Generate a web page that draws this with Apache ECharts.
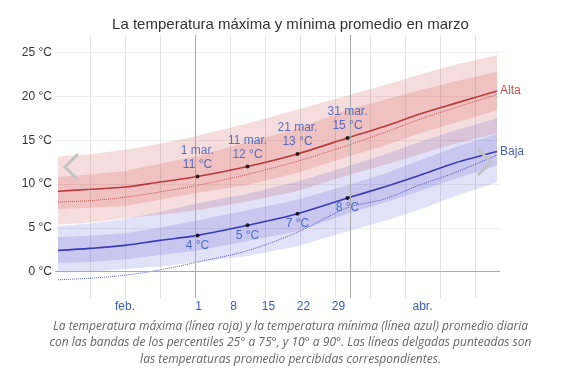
<!DOCTYPE html>
<html>
<head>
<meta charset="utf-8">
<script src="https://cdn.jsdelivr.net/npm/echarts@6/dist/echarts.min.js"></script>
<style>
  html, body { margin: 0; padding: 0; background: #fff; }
  #chart { width: 581px; height: 375px; }
</style>
</head>
<body>
<div id="chart"></div>
<script>
// x = Tage ab 1. Feb. (0) bis 1. Mai (89)
const days        = [0.6, 7, 14, 21, 28.5, 38.5, 48.5, 58.5, 66, 73, 80, 88.4];

const highAvg     = [9.17, 9.4, 9.66, 10.23, 10.85, 12.0, 13.43, 15.25, 16.6, 18.0, 19.2, 20.6];
const highFeels   = [7.95, 8.1, 8.5, 9.1, 9.85, 11.1, 12.6, 14.4, 15.9, 17.4, 18.7, 20.2];
const highP90     = [13.15, 13.4, 13.9, 14.6, 15.5, 16.9, 18.5, 20.1, 21.3, 22.5, 23.6, 24.7];
const highP75     = [10.8, 11.1, 11.5, 12.3, 13.2, 14.8, 16.3, 18.5, 19.6, 20.7, 21.7, 22.8];
const highP25     = [7.15, 7.3, 7.5, 8.2, 9.0, 9.9, 11.3, 13.1, 14.4, 15.8, 17.0, 18.4];
const highP10     = [5.36, 5.6, 6.1, 6.5, 7.0, 8.0, 9.2, 11.0, 12.2, 13.4, 14.6, 15.8];

const lowAvg      = [2.43, 2.66, 3.0, 3.57, 4.14, 5.29, 6.62, 8.4, 9.7, 11.0, 12.4, 13.7];
const lowFeels    = [-0.92, -0.75, -0.4, 0.2, 1.1, 2.4, 4.5, 7.3, 8.3, 9.9, 11.3, 13.3];
const lowP90      = [5.2, 5.5, 6.0, 6.8, 7.8, 8.9, 10.3, 12.0, 13.4, 14.8, 16.1, 17.5];
const lowP75      = [3.95, 4.1, 4.4, 5.0, 5.85, 7.0, 8.2, 9.85, 11.2, 12.7, 14.2, 15.7];
const lowP25      = [0.98, 1.1, 1.4, 1.9, 2.43, 3.5, 4.6, 6.6, 7.9, 9.2, 10.6, 12.1];
const lowP10      = [-0.05, 0.0, 0.3, 0.6, 1.1, 1.8, 2.9, 4.6, 5.8, 7.1, 8.6, 10.2];

// markierte Tage
const pointDays   = [28.5, 38.5, 48.5, 58.5];
const pointNames  = ['1 mar.', '11 mar.', '21 mar.', '31 mar.'];
const pointHigh   = [10.85, 12.0, 13.43, 15.25];
const pointLow    = [4.14, 5.29, 6.62, 8.4];

// Achsenbeschriftung
const tickDays    = [14, 28.7, 35.7, 42.7, 49.7, 56.7, 73.5];
const tickNames   = ['feb.', '1', '8', '15', '22', '29', 'abr.'];
const yTicks      = [0, 5, 10, 15, 20, 25];
const monthLines  = [28, 59];

const RED = '#b93a3a';
const BLUE = '#3a3ab9';
const LABEL_BLUE = '#2f55c0';
const FONT = 'Liberation Sans, Arial, sans-serif';

const chart = echarts.init(document.getElementById('chart'), null, { renderer: 'canvas' });

function pairs(values) {
    return days.map((d, i) => [d, values[i]]);
}

// Perzentilband als Polygon (oben hin, unten zurück)
function band(lo, hi, color) {
    return {
        type: 'custom', silent: true,
        data: days.map((d, i) => [d, lo[i], hi[i]]),
        encode: { x: 0, y: [1, 2] },
        renderItem: function (params, api) {
            if (params.dataIndex !== 0) return null;
            const top = days.map((d, i) => api.coord([d, hi[i]]));
            const bottom = days.map((d, i) => api.coord([d, lo[i]])).reverse();
            return {
                type: 'polygon',
                shape: { points: top.concat(bottom) },
                style: { fill: color }
            };
        }
    };
}

const series = [
    band(highP10, highP90, 'rgba(204,51,51,0.17)'),
    band(highP25, highP75, 'rgba(204,51,51,0.17)'),
    band(lowP10, lowP90, 'rgba(51,51,204,0.15)'),
    band(lowP25, lowP75, 'rgba(51,51,204,0.15)'),
    {
        type: 'line', data: pairs(highFeels), symbol: 'none', smooth: 0.3, silent: true,
        lineStyle: { color: RED, width: 1, type: 'dotted', opacity: 0.8 }
    },
    {
        type: 'line', data: pairs(lowFeels), symbol: 'none', smooth: 0.3, silent: true,
        lineStyle: { color: BLUE, width: 1, type: 'dotted', opacity: 0.8 }
    },
    {
        type: 'line', data: pairs(highAvg), symbol: 'none', smooth: 0.3,
        lineStyle: { color: RED, width: 1.6 },
        endLabel: { show: true, formatter: 'Alta', color: '#c0504d', fontSize: 12, distance: 3, fontFamily: FONT },
        markLine: {
            silent: true, symbol: 'none', label: { show: false },
            lineStyle: { color: '#aaa', type: 'solid', width: 1 },
            data: monthLines.map(d => ({ xAxis: d })).concat([{ yAxis: 0 }])
        }
    },
    {
        type: 'line', data: pairs(lowAvg), symbol: 'none', smooth: 0.3,
        lineStyle: { color: BLUE, width: 1.6 },
        endLabel: { show: true, formatter: 'Baja', color: '#4a5fc0', fontSize: 12, distance: 3, fontFamily: FONT }
    },
    {
        type: 'scatter', symbolSize: 4, itemStyle: { color: '#000' }, z: 5,
        data: pointDays.map((d, i) => ({ value: [d, pointHigh[i]], name: pointNames[i] })),
        label: {
            show: true, position: 'top', distance: 3, color: LABEL_BLUE, fontSize: 12,
            lineHeight: 14, fontFamily: FONT,
            formatter: p => p.name + '\n' + Math.round(p.value[1]) + ' °C'
        }
    },
    {
        type: 'scatter', symbolSize: 4, itemStyle: { color: '#000' }, z: 5,
        data: pointDays.map((d, i) => [d, pointLow[i]]),
        label: {
            show: true, position: 'bottom', distance: 2, color: LABEL_BLUE, fontSize: 12,
            fontFamily: FONT,
            formatter: p => Math.round(p.value[1]) + ' °C'
        }
    }
];

chart.setOption({
    animation: false,
    title: {
        text: 'La temperatura máxima y mínima promedio en marzo',
        left: 'center', top: 12,
        textStyle: { fontSize: 15, fontWeight: 'normal', color: '#333', fontFamily: FONT }
    },
    grid: { left: 55, right: 81, top: 35, bottom: 77 },
    xAxis: {
        type: 'value', min: 0, max: 89, interval: 7,
        axisLine: { show: false, onZero: false },
        axisTick: { show: false },
        splitLine: { show: true, showMinLine: false, showMaxLine: false,
            lineStyle: { color: '#e4e4e4', width: 1 } },
        axisLabel: {
            customValues: tickDays, margin: 3, color: '#3a5cc0', fontSize: 12, fontFamily: FONT,
            formatter: v => {
                const i = tickDays.findIndex(t => Math.abs(t - v) < 0.01);
                return i >= 0 ? tickNames[i] : '';
            }
        }
    },
    yAxis: {
        type: 'value', min: -3, max: 27,
        axisLine: { show: false },
        axisTick: { show: false, customValues: yTicks },
        splitLine: { show: true, lineStyle: { color: '#eeeeee', width: 1 } },
        axisLabel: {
            customValues: yTicks, margin: 3, color: '#333', fontSize: 12, fontFamily: FONT,
            formatter: v => v + ' °C'
        }
    },
    graphic: [
        {
            type: 'polyline', silent: true, z: 100,
            shape: { points: [[78, 154], [65, 167], [78, 180]] },
            style: { stroke: '#c4c4c4', lineWidth: 3, fill: null }
        },
        {
            type: 'polyline', silent: true, z: 100,
            shape: { points: [[478, 149], [491, 162], [478, 175]] },
            style: { stroke: '#c4c4c4', lineWidth: 3, fill: null }
        },
        {
            type: 'text', left: 'center', top: 318, silent: true,
            style: {
                text: 'La temperatura máxima (línea roja) y la temperatura mínima (línea azul) promedio diaria\n' +
                      'con las bandas de los percentiles 25° a 75°, y 10° a 90°. Las líneas delgadas punteadas son\n' +
                      'las temperaturas promedio percibidas correspondientes.',
                textAlign: 'center', fill: '#666', lineHeight: 16.5,
                font: 'italic 12px "Open Sans", sans-serif'
            }
        }
    ],
    series: series
});
</script>
</body>
</html>
